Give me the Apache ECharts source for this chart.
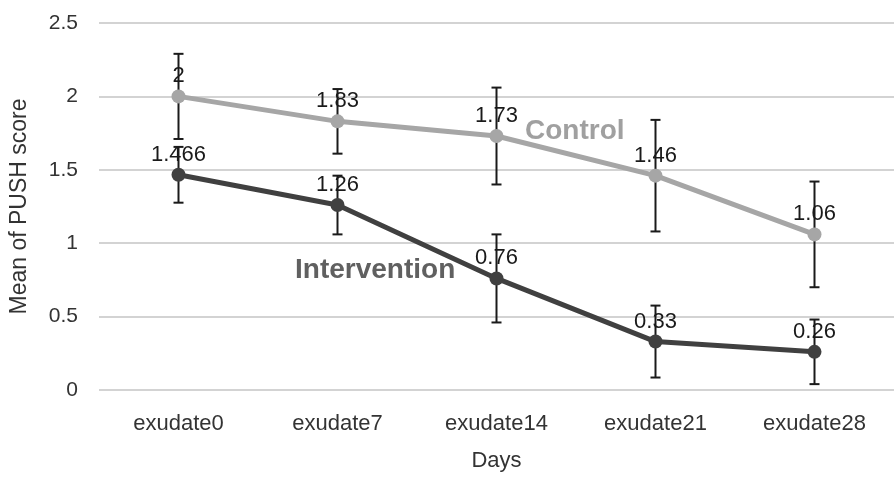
<!DOCTYPE html>
<html>
<head>
<meta charset="utf-8">
<script src="https://cdn.jsdelivr.net/npm/echarts@6/dist/echarts.min.js"></script>
<style>
html,body{margin:0;padding:0;background:#fff;overflow:hidden;width:894px;height:477px;}
#c{width:894px;height:477px;}
</style>
</head>
<body>
<div id="c"></div>
<script>
var categories = ['exudate0', 'exudate7', 'exudate14', 'exudate21', 'exudate28'];
var controlValues = [2, 1.83, 1.73, 1.46, 1.06];
var controlErr = [0.29, 0.22, 0.33, 0.38, 0.36];
var interventionValues = [1.466, 1.26, 0.76, 0.33, 0.26];
var interventionErr = [0.19, 0.20, 0.30, 0.245, 0.22];
var yTicks = [0, 0.5, 1, 1.5, 2, 2.5];

var FONT = 'Liberation Sans';

function errData(vals, errs) {
  return vals.map(function (v, i) { return [i, v - errs[i], v + errs[i]]; });
}

function renderErr(params, api) {
  var x = api.value(0);
  var lo = api.coord([x, api.value(1)]);
  var hi = api.coord([x, api.value(2)]);
  var hw = 5;
  var style = { stroke: '#1a1a1a', lineWidth: 2, fill: null };
  return {
    type: 'group',
    children: [
      { type: 'line', shape: { x1: lo[0], y1: lo[1], x2: hi[0], y2: hi[1] }, style: style },
      { type: 'line', shape: { x1: lo[0] - hw, y1: lo[1], x2: lo[0] + hw, y2: lo[1] }, style: style },
      { type: 'line', shape: { x1: hi[0] - hw, y1: hi[1], x2: hi[0] + hw, y2: hi[1] }, style: style }
    ]
  };
}

var chart = echarts.init(document.getElementById('c'), null, { renderer: 'canvas', width: 894, height: 477 });

var option = {
  backgroundColor: '#ffffff',
  animation: false,
  grid: { left: 97, right: -12, top: 23, bottom: 83, containLabel: false },
  xAxis: {
    type: 'category',
    data: categories,
    boundaryGap: true,
    axisLine: { show: false },
    axisTick: { show: false },
    axisLabel: { fontFamily: FONT, fontSize: 22, color: '#333333', margin: 23 },
    name: 'Days',
    nameLocation: 'middle',
    nameGap: 60,
    nameTextStyle: { fontFamily: FONT, fontSize: 22, color: '#333333' }
  },
  yAxis: {
    type: 'value',
    min: yTicks[0],
    max: yTicks[yTicks.length - 1],
    interval: 0.5,
    axisLine: { show: false },
    axisTick: { show: false },
    axisLabel: { fontFamily: FONT, fontSize: 21, color: '#333333', margin: 21 },
    splitLine: { lineStyle: { color: '#c4c4c4', width: 1.5 } },
    name: 'Mean of PUSH score',
    nameLocation: 'middle',
    nameGap: 68,
    nameTextStyle: { fontFamily: FONT, fontSize: 23, color: '#333333' }
  },
  series: [
    {
      name: 'ControlErr',
      type: 'custom',
      renderItem: renderErr,
      data: errData(controlValues, controlErr),
      z: 1,
      silent: true
    },
    {
      name: 'InterventionErr',
      type: 'custom',
      renderItem: renderErr,
      data: errData(interventionValues, interventionErr),
      z: 1,
      silent: true
    },
    {
      name: 'Control',
      type: 'line',
      data: controlValues,
      symbol: 'circle',
      symbolSize: 14,
      z: 2,
      lineStyle: { color: '#a6a6a6', width: 5 },
      itemStyle: { color: '#a6a6a6' },
      label: { show: true, position: 'top', distance: 2, fontFamily: FONT, fontSize: 22, color: '#1a1a1a' }
    },
    {
      name: 'Intervention',
      type: 'line',
      data: interventionValues,
      symbol: 'circle',
      symbolSize: 14,
      z: 2,
      lineStyle: { color: '#404040', width: 5 },
      itemStyle: { color: '#404040' },
      label: { show: true, position: 'top', distance: 2, fontFamily: FONT, fontSize: 22, color: '#1a1a1a' }
    }
  ],
  graphic: [
    {
      type: 'text', left: 525, top: 117, z: 10,
      style: { text: 'Control', fontFamily: FONT, fontWeight: 'bold', fontSize: 28, fill: '#a0a0a0' }
    },
    {
      type: 'text', left: 295, top: 256, z: 10,
      style: { text: 'Intervention', fontFamily: FONT, fontWeight: 'bold', fontSize: 28, fill: '#606060' }
    }
  ]
};
chart.setOption(option);
</script>
</body>
</html>
